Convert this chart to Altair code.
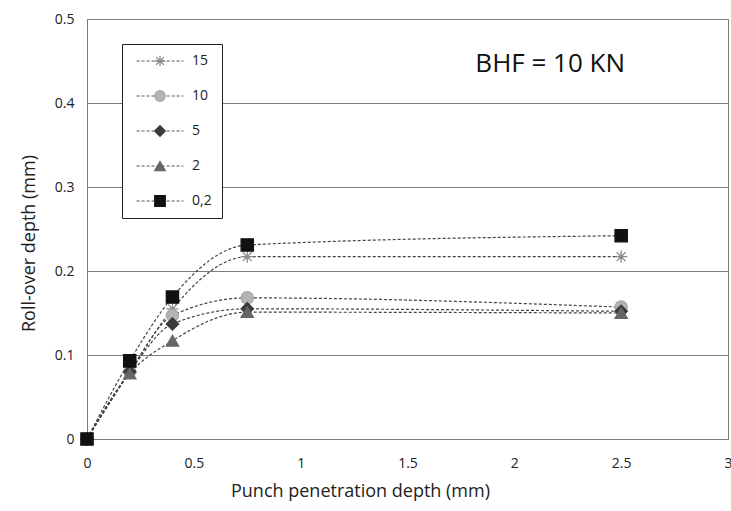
import altair as alt
import pandas as pd

x_vals = [0, 0.2, 0.4, 0.75, 2.5]
series_names = ["15", "10", "5", "2", "0,2"]
y_15 = [0, 0.080, 0.155, 0.217, 0.217]
y_10 = [0, 0.080, 0.147, 0.168, 0.157]
y_5 = [0, 0.080, 0.137, 0.155, 0.152]
y_2 = [0, 0.078, 0.117, 0.151, 0.150]
y_02 = [0, 0.093, 0.169, 0.231, 0.242]

fill_colors = ["#ffffff", "#b4b4b4", "#3a3a3a", "#666666", "#111111"]
stroke_colors = ["#8c8c8c", "#a8a8a8", "#3a3a3a", "#666666", "#111111"]
star_path = "M-1,0L1,0M0,-1L0,1M-0.72,-0.72L0.72,0.72M-0.72,0.72L0.72,-0.72"
shapes = [star_path, "circle", "diamond", "triangle-up", "square"]

# separate key for the line legend so Vega-Lite does not merge the two legends
line_keys = [n + " " for n in series_names]

rows = []
for name, key, ys in zip(series_names, line_keys, [y_15, y_10, y_5, y_2, y_02]):
    for xv, yv in zip(x_vals, ys):
        rows.append({"series": name, "grp": key, "x": xv, "y": yv})
df = pd.DataFrame(rows)

FONT = "Open Sans"

xenc = alt.X("x:Q", scale=alt.Scale(domain=[0, 3], nice=False),
             axis=alt.Axis(values=[0, 0.5, 1, 1.5, 2, 2.5, 3], format=".1~f",
                           title="Punch penetration depth (mm)", grid=False,
                           ticks=False, domain=False, labelPadding=17,
                           titlePadding=12, labelFontSize=14, titleFontSize=18,
                           labelColor="#222", titleColor="#222",
                           labelFont=FONT, titleFont=FONT, titleFontWeight="normal",
                           titleX=273, titleAlign="center", labelFlush=False))
yenc = alt.Y("y:Q", scale=alt.Scale(domain=[0, 0.5], nice=False),
             axis=alt.Axis(values=[0, 0.1, 0.2, 0.3, 0.4, 0.5], format=".1~f",
                           title="Roll-over depth (mm)", grid=True, gridColor="#7a7a7a",
                           gridWidth=1, ticks=False, domain=True, domainColor="#7a7a7a",
                           labelPadding=13, titlePadding=16, labelFontSize=14,
                           titleFontSize=18, labelColor="#222", titleColor="#222",
                           labelFont=FONT, titleFont=FONT, titleFontWeight="normal",
                           titleY=224))

lines = alt.Chart(df).mark_line(interpolate="monotone", strokeWidth=1.2,
                                color="#444444").encode(
    x=xenc, y=yenc,
    strokeDash=alt.StrokeDash("grp:N", sort=line_keys,
                              scale=alt.Scale(domain=line_keys,
                                              range=[[3, 2]] * 5),
                              legend=alt.Legend(
                                  title=None, orient="none", legendX=35, legendY=25,
                                  symbolType="M-5.2,0L5.2,0", symbolSize=81,
                                  symbolStrokeColor="#555555", symbolStrokeWidth=1.1,
                                  symbolDash=[3, 2], symbolOffset=21,
                                  labelOffset=25, labelFontSize=14, labelFont=FONT,
                                  labelColor="#222", rowPadding=21, padding=10,
                                  strokeColor="#222", fillColor="white",
                                  labelLimit=200, zindex=0)),
)

points = alt.Chart(df).mark_point(filled=True, size=150, strokeWidth=1.3,
                                  opacity=1).encode(
    x="x:Q", y="y:Q",
    shape=alt.Shape("series:N", sort=series_names,
                    scale=alt.Scale(domain=series_names, range=shapes),
                    legend=alt.Legend(title=None, orient="none", legendX=35, legendY=25,
                                      symbolSize=110, symbolOffset=21, rowPadding=19,
                                      padding=10, labelExpr="''", labelFontSize=14,
                                      labelFont=FONT, labelOffset=25, symbolOpacity=1,
                                      symbolStrokeWidth=1.3, zindex=1)),
    fill=alt.Fill("series:N", sort=series_names,
                  scale=alt.Scale(domain=series_names, range=fill_colors),
                  legend=None),
    stroke=alt.Stroke("series:N", sort=series_names,
                      scale=alt.Scale(domain=series_names, range=stroke_colors),
                      legend=None),
)

label_df = pd.DataFrame({"x": [2.168], "y": [0.446], "text": ["BHF = 10 KN"]})
label = alt.Chart(label_df).mark_text(fontSize=26, font=FONT, color="#111",
                                      align="center", baseline="middle").encode(
    x="x:Q", y="y:Q", text="text:N")

chart = alt.layer(lines, points, label).properties(
    width=641, height=420,
    autosize=alt.AutoSizeParams(type="none"),
    padding={"left": 87, "top": 19, "right": 3, "bottom": 72},
    background="white",
).configure_view(stroke="#7a7a7a", strokeWidth=1)

chart.save("out.html", embed_options={"renderer": "svg", "actions": False})
